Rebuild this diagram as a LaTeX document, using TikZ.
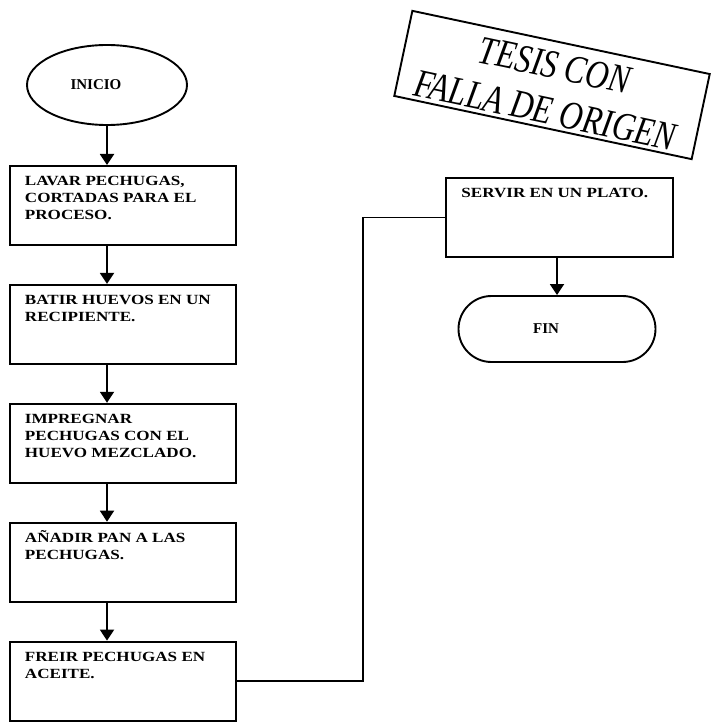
\documentclass[tikz,border=0pt]{standalone}
\usepackage{fontspec}
\setmainfont{Liberation Serif}
\newfontfamily\boxfont[FakeStretch=1.22]{Liberation Serif}
\newfontfamily\stampfont[FakeStretch=0.8]{Liberation Serif}
\usetikzlibrary{positioning,shapes.geometric,arrows.meta}
\newcommand{\steptext}[1]{\parbox[c][79pt][t]{196pt}{\raggedright\vspace*{8pt}\rule{0pt}{12pt}#1}}
\tikzset{
  stepbox/.style={draw,inner sep=0pt,minimum width=226pt,minimum height=79pt,
    font=\boxfont\bfseries\fontsize{14pt}{16.7pt}\selectfont},
  termbox/.style={draw,font=\bfseries\fontsize{15pt}{18pt}\selectfont},
}
\begin{document}
\begin{tikzpicture}[>={Triangle[width=14pt,length=11pt]},line width=1.9pt]
  \useasboundingbox (0,0) rectangle (713pt,-722pt);
  \node[termbox,ellipse,minimum width=160pt,minimum height=80pt] (ini) at (107pt,-85pt) {INICIO\kern22pt};
  \node[stepbox,anchor=north west] (lavar) at (9pt,-165pt)
    {\steptext{LAVAR PECHUGAS,\\CORTADAS PARA EL\\PROCESO.}};
  \node[stepbox,below=38pt of lavar] (batir)
    {\steptext{BATIR HUEVOS EN UN\\RECIPIENTE.}};
  \node[stepbox,below=38pt of batir] (impregnar)
    {\steptext{IMPREGNAR\\PECHUGAS CON EL\\HUEVO MEZCLADO.}};
  \node[stepbox,below=38pt of impregnar] (anadir)
    {\steptext{AÑADIR PAN A LAS\\PECHUGAS.}};
  \node[stepbox,below=38pt of anadir] (freir)
    {\steptext{FREIR PECHUGAS EN\\ACEITE.}};
  \node[stepbox,anchor=north west,minimum width=227pt] (servir) at (445pt,-177pt)
    {\steptext{SERVIR EN UN PLATO.}};
  \node[termbox,rectangle,rounded corners=33pt,minimum width=197pt,minimum height=66pt] (fin) at (557pt,-329pt) {FIN\kern22pt};
  \coordinate (bend) at (363pt,0);

  \draw[->] (ini.south) -- (lavar.north -| ini.south);
  \foreach \a/\b in {lavar/batir,batir/impregnar,impregnar/anadir,anadir/freir}
    \draw[->] (\a.south -| ini.south) -- (\b.north -| ini.south);
  \draw (freir.east) -| (bend |- servir.west) -- (servir.west);
  \draw[->] (servir.south -| fin.north) -- (fin.north);

  \node[draw,rotate=-12,minimum width=304pt,minimum height=87pt] (sello) at (552pt,-85pt) {};
  \node[rotate=-12,align=center,font=\stampfont\itshape\fontsize{40pt}{46pt}\selectfont] (sellotxt) at (550pt,-88pt)
    {TESIS CON\\FALLA DE ORIGEN};
\end{tikzpicture}
\end{document}
